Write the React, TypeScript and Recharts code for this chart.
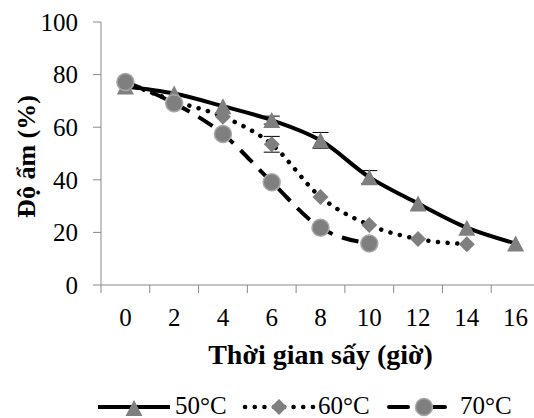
import React from 'react';
import { LineChart, Line, XAxis, YAxis, Legend, ErrorBar } from 'recharts';

// drying time (hours) and moisture (%) for each drying temperature
const TIME = [0, 2, 4, 6, 8, 10, 12, 14, 16];
const M50 = [75.5, 72.8, 68, 62.7, 55, 41, 31, 21.8, 15.8];
const M60 = [77, 70, 64, 53.5, 33.5, 22.8, 17.5, 15.5, null];
const M70 = [77.2, 69.1, 57.4, 39.1, 21.8, 15.8, null, null, null];
const E50 = [0, 0, 0, 1.5, 3, 2.5, 0, 0, 0];
const E60 = [0, 0, 0, 3, 0, 0, 0, 0, 0];
const Y_TICKS = [0, 20, 40, 60, 80, 100];
const SERIES_NAMES = ['50°C', '60°C', '70°C'];

const FONT = 'Liberation Serif, Times New Roman, DejaVu Serif, serif';
const AXIS_GRAY = '#898989';
const MARK_GRAY = '#7f7f7f';

const data = TIME.map((t, i) => ({
  t,
  m50: M50[i],
  m60: M60[i],
  m70: M70[i],
  e50: E50[i],
  e60: E60[i],
}));

// category boundaries (-1, 1, 3 ...) get a tick line, the hours get a label
const X_TICKS = [-1, ...TIME.flatMap(t => [t, t + 1])];

const tickText = { fontSize: 25, fontFamily: FONT, fill: '#000' };
const titleText = { fontSize: 26, fontWeight: 'bold' as const, fontFamily: FONT, fill: '#000' };

const XTick = (props: any) => {
  const { x, y, payload } = props;
  const v = payload.value;
  if (TIME.indexOf(v) === -1) {
    return <line x1={x} x2={x} y1={y} y2={y + 8} stroke={AXIS_GRAY} strokeWidth={1} />;
  }
  return (
    <text x={x} y={y + 41} textAnchor="middle" style={tickText}>
      {v}
    </text>
  );
};

const triangle = (cx: number, cy: number) =>
  `M${cx},${cy - 8}L${cx + 8.5},${cy + 8}L${cx - 8.5},${cy + 8}Z`;
const diamond = (cx: number, cy: number) =>
  `M${cx},${cy - 8}L${cx + 8},${cy}L${cx},${cy + 8}L${cx - 8},${cy}Z`;

const TriDot = (p: any) => {
  if (p.value == null || p.cy == null) return <g key={p.index} />;
  return <path key={p.index} d={triangle(p.cx, p.cy)} fill={MARK_GRAY} />;
};
const DiaDot = (p: any) => {
  if (p.value == null || p.cy == null) return <g key={p.index} />;
  return <path key={p.index} d={diamond(p.cx, p.cy)} fill={MARK_GRAY} />;
};
const CircDot = (p: any) => {
  if (p.value == null || p.cy == null) return <g key={p.index} />;
  return <circle key={p.index} cx={p.cx} cy={p.cy} r={8.5} fill={MARK_GRAY} stroke="#a8a8a8" strokeWidth={1.5} />;
};

const LegendBox = () => (
  <svg width={534} height={30} style={{ display: 'block', overflow: 'visible' }}>
    {/* 50°C */}
    <line x1={98} x2={170} y1={19} y2={19} stroke="#000" strokeWidth={4} />
    <path d={triangle(134, 20)} fill={MARK_GRAY} />
    <text x={175} y={26} style={tickText}>{SERIES_NAMES[0]}</text>
    {/* 60°C */}
    <line x1={245} x2={313} y1={19} y2={19} stroke="#000" strokeWidth={4.5}
      strokeDasharray="0.1 9.6" strokeLinecap="round" />
    <path d={diamond(279, 19)} fill={MARK_GRAY} />
    <text x={318} y={26} style={tickText}>{SERIES_NAMES[1]}</text>
    {/* 70°C */}
    <line x1={389} x2={408} y1={19} y2={19} stroke="#000" strokeWidth={4} strokeLinecap="round" />
    <line x1={432} x2={445} y1={19} y2={19} stroke="#000" strokeWidth={4} strokeLinecap="round" />
    <circle cx={424} cy={19} r={8.5} fill={MARK_GRAY} stroke="#a8a8a8" strokeWidth={1.5} />
    <text x={460} y={26} style={tickText}>{SERIES_NAMES[2]}</text>
  </svg>
);

export default function App() {
  return (
    <div
      style={{
        position: 'absolute',
        left: 0,
        top: 0,
        width: 534,
        height: 418,
        overflow: 'hidden',
        background: '#fff',
        fontFamily: FONT,
      }}
    >
      <LineChart width={560} height={418} data={data} margin={{ top: 22, right: 20, bottom: 0, left: 0 }}>
        <XAxis
          dataKey="t"
          type="number"
          domain={[-1, 17]}
          ticks={X_TICKS}
          interval={0}
          tickLine={false}
          tickSize={0}
          tickMargin={0}
          axisLine={{ stroke: AXIS_GRAY, strokeWidth: 1 }}
          height={103}
          tick={<XTick />}
          label={({ viewBox }: any) => (
            <text
              x={viewBox.x + viewBox.width / 2}
              y={364}
              textAnchor="middle"
              style={{ ...titleText, fontSize: 28 }}
            >
              Thời gian sấy (giờ)
            </text>
          )}
        />
        <YAxis
          type="number"
          domain={[0, 100]}
          ticks={Y_TICKS}
          interval={0}
          width={101}
          tickSize={8}
          tickMargin={15}
          axisLine={{ stroke: AXIS_GRAY, strokeWidth: 1 }}
          tickLine={{ stroke: AXIS_GRAY, strokeWidth: 1 }}
          tick={{ fontSize: 25, fill: '#000', style: { fontFamily: FONT } }}
          label={({ viewBox }: any) => (
            <text
              transform={`translate(35, ${viewBox.y + viewBox.height / 2 + 3}) rotate(-90)`}
              textAnchor="middle"
              style={titleText}
            >
              Độ ẩm (%)
            </text>
          )}
        />
        <Legend
          verticalAlign="bottom"
          height={30}
          wrapperStyle={{ left: 0, width: 534, height: 30 }}
          content={() => <LegendBox />}
        />
        <Line
          dataKey="m50"
          name={SERIES_NAMES[0]}
          type="monotone"
          stroke="#000"
          strokeWidth={4}
          dot={TriDot}
          activeDot={false}
          isAnimationActive={false}
        >
          <ErrorBar dataKey="e50" direction="y" width={8} stroke="#000" strokeWidth={1} />
        </Line>
        <Line
          dataKey="m60"
          name={SERIES_NAMES[1]}
          type="monotone"
          stroke="#000"
          strokeWidth={4.5}
          strokeDasharray="0.1 9.6"
          strokeLinecap="round"
          dot={DiaDot}
          activeDot={false}
          isAnimationActive={false}
        >
          <ErrorBar dataKey="e60" direction="y" width={8} stroke="#000" strokeWidth={1} />
        </Line>
        <Line
          dataKey="m70"
          name={SERIES_NAMES[2]}
          type="monotone"
          stroke="#000"
          strokeWidth={4}
          strokeDasharray="17 10"
          dot={CircDot}
          activeDot={false}
          isAnimationActive={false}
        />
      </LineChart>
    </div>
  );
}
